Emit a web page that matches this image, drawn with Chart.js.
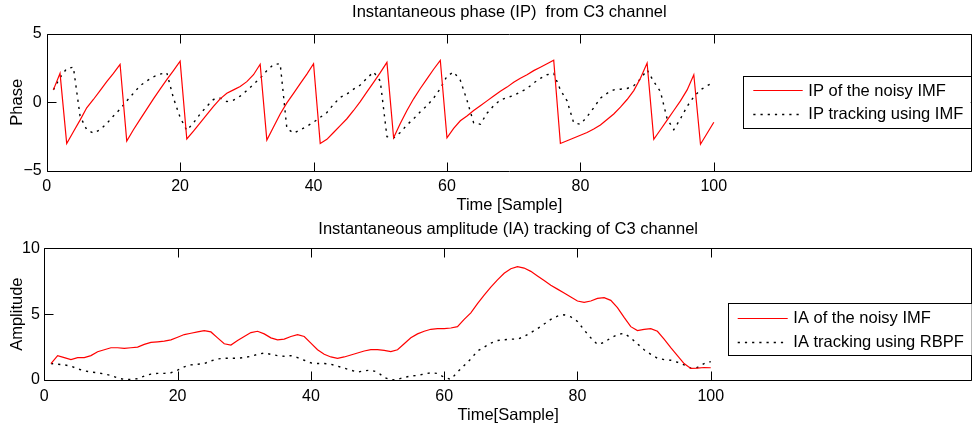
<!DOCTYPE html>
<html>
<head>
<meta charset="utf-8">
<script src="https://cdn.jsdelivr.net/npm/chart.js@4.4.1/dist/chart.umd.min.js"></script>
<style>
  html, body { margin: 0; padding: 0; background: #fff; }
  #wrap { position: relative; width: 972px; height: 429px; overflow: hidden; background: #fff; }
  canvas { position: absolute; left: 0; }
  #c1 { top: 0; }
  #c2 { top: 215px; }
</style>
</head>
<body>
<div id="wrap">
  <canvas id="c1" width="972" height="215"></canvas>
  <canvas id="c2" width="972" height="214"></canvas>
</div>
<script>
// ---------- data ----------
const samples = [1,2,3,4,5,6,7,8,9,10,11,12,13,14,15,16,17,18,19,20,
  21,22,23,24,25,26,27,28,29,30,31,32,33,34,35,36,37,38,39,40,
  41,42,43,44,45,46,47,48,49,50,51,52,53,54,55,56,57,58,59,60,
  61,62,63,64,65,66,67,68,69,70,71,72,73,74,75,76,77,78,79,80,
  81,82,83,84,85,86,87,88,89,90,91,92,93,94,95,96,97,98,99,100];

const ipNoisy = [0.9,2.1,-3.0,-2.15,-1.3,-0.4,0.2,0.85,1.5,2.1,
  2.76,-2.82,-2.0,-1.25,-0.5,0.25,0.95,1.65,2.3,2.98,
  -2.67,-2.1,-1.5,-0.9,-0.3,0.25,0.65,0.9,1.15,1.5,
  2.0,2.76,-2.75,-1.8,-0.85,-0.05,0.65,1.35,2.05,2.8,
  -3.0,-2.7,-2.2,-1.7,-1.2,-0.6,0.05,0.75,1.45,2.15,
  2.9,-2.58,-1.55,-0.6,0.25,1.0,1.7,2.4,3.05,-2.58,
  -1.9,-1.35,-1.0,-0.6,-0.25,0.1,0.45,0.8,1.1,1.45,
  1.75,2.0,2.3,2.55,2.8,3.05,-3.0,-2.8,-2.6,-2.4,
  -2.2,-1.95,-1.65,-1.25,-0.85,-0.35,0.2,0.85,1.75,2.85,
  -2.7,-2.0,-1.3,-0.6,0.1,0.9,2.0,-3.05,-2.25,-1.45];

const ipTrack = [0.9,1.8,2.45,2.55,-1.0,-2.0,-2.25,-2.0,-1.55,-1.0,
  -0.5,0.1,0.65,1.2,1.55,1.85,2.05,2.15,0.3,-1.1,
  -2.05,-1.5,-0.85,-0.3,0.2,0.3,0.05,0.15,0.45,0.85,
  1.3,1.75,2.3,2.75,2.8,-1.9,-2.25,-2.0,-1.75,-1.45,
  -1.1,-0.75,-0.15,0.35,0.6,0.95,1.25,1.75,2.2,1.55,
  -2.5,-2.6,-2.2,-1.65,-1.2,-0.7,-0.25,0.3,1.0,1.9,
  2.2,1.6,0.15,-1.5,-1.6,-0.8,-0.25,0.16,0.35,0.48,
  0.75,1.0,1.4,1.74,2.0,2.1,0.9,0.1,-1.5,-1.6,
  -1.05,-0.4,0.3,0.65,0.9,0.95,1.0,1.2,1.7,2.35,
  1.5,0.77,-1.2,-2.0,-1.2,-0.3,0.4,0.9,1.2,1.45];

const iaNoisy = [1.25,1.85,1.7,1.55,1.7,1.7,1.85,2.15,2.3,2.45,
  2.45,2.4,2.45,2.5,2.7,2.85,2.9,2.95,3.05,3.25,
  3.45,3.55,3.65,3.75,3.65,3.2,2.75,2.65,3.0,3.3,
  3.6,3.7,3.5,3.2,3.05,3.1,3.3,3.45,3.3,2.8,
  2.3,1.95,1.75,1.65,1.75,1.9,2.05,2.2,2.3,2.3,
  2.25,2.15,2.3,2.75,3.2,3.5,3.7,3.85,3.9,3.9,
  3.95,4.05,4.6,5.1,5.8,6.45,7.05,7.6,8.1,8.45,
  8.6,8.5,8.25,7.9,7.55,7.2,6.9,6.6,6.3,6.0,
  5.9,6.0,6.2,6.25,6.05,5.5,4.75,4.05,3.75,3.85,
  3.9,3.7,3.1,2.45,1.85,1.25,0.88,0.9,0.95,0.93];

const iaTrack = [1.25,1.2,1.15,1.05,0.85,0.7,0.6,0.55,0.45,0.35,
  0.15,0.05,0.05,0.1,0.3,0.45,0.5,0.5,0.55,0.75,
  1.0,1.15,1.2,1.25,1.45,1.6,1.65,1.65,1.65,1.7,
  1.8,1.95,2.05,1.95,1.85,1.8,1.85,1.7,1.5,1.3,
  1.25,1.25,1.2,1.05,0.9,0.75,0.6,0.7,0.75,0.6,
  0.2,0.0,0.05,0.2,0.3,0.35,0.45,0.55,0.5,0.2,
  0.05,0.6,1.1,1.6,2.2,2.5,2.8,3.0,3.05,3.1,
  3.1,3.3,3.6,3.9,4.25,4.6,4.85,4.95,4.8,4.45,
  3.8,3.2,2.7,2.85,3.2,3.45,3.55,3.2,2.75,2.3,
  1.95,1.65,1.55,1.5,1.35,1.15,0.9,0.95,1.25,1.4];

const xTickValues = [0, 20, 40, 60, 80, 100];
const phaseTicks = [-5, 0, 5];
const ampTicks = [0, 5, 10];

// ---------- helpers ----------
const FONT = '"Liberation Sans", Arial, Helvetica, sans-serif';
Chart.defaults.font.family = FONT;
Chart.defaults.color = '#000';

const toPts = (vals) => samples.map((s, i) => ({ x: s, y: vals[i] }));
const fmtTick = (v) => String(v).replace('-', '\u2212');

const frameTicks = {
  id: 'frameTicks',
  afterDatasetsDraw(chart) {
    const { ctx, chartArea: a, scales: { x, y } } = chart;
    const L = 9;
    const l = Math.round(a.left) + 0.5, r = Math.round(a.right) - 0.5;
    const t = Math.round(a.top) + 0.5, b = Math.round(a.bottom) + 0.5;
    ctx.save();
    ctx.strokeStyle = '#000';
    ctx.lineWidth = 1;
    ctx.beginPath();
    x.ticks.forEach(tk => {
      const px = Math.round(x.getPixelForValue(tk.value)) + 0.5;
      ctx.moveTo(px, t); ctx.lineTo(px, t + L);
      ctx.moveTo(px, b); ctx.lineTo(px, b - L);
    });
    y.ticks.forEach(tk => {
      const py = Math.round(y.getPixelForValue(tk.value)) + 0.5;
      ctx.moveTo(l, py); ctx.lineTo(l + L, py);
      ctx.moveTo(r, py); ctx.lineTo(r - L, py);
    });
    ctx.stroke();
    ctx.beginPath();
    ctx.moveTo(l, t); ctx.lineTo(r, t); ctx.lineTo(r, b); ctx.lineTo(l, b); ctx.closePath();
    ctx.stroke();
    ctx.restore();
  }
};

const boxLegend = {
  id: 'boxLegend',
  afterDraw(chart, args, o) {
    const { ctx } = chart;
    ctx.save();
    ctx.fillStyle = '#fff';
    ctx.fillRect(o.left, o.top, o.width, o.height);
    ctx.strokeStyle = '#000';
    ctx.lineWidth = 1;
    ctx.strokeRect(Math.round(o.left) + 0.5, Math.round(o.top) + 0.5, Math.round(o.width), Math.round(o.height));
    chart.data.datasets.forEach((ds, i) => {
      const yy = Math.round(o.top + o.rowY[i]) + 0.5;
      ctx.beginPath();
      ctx.strokeStyle = ds.borderColor;
      ctx.lineWidth = ds.borderWidth;
      ctx.setLineDash(ds.borderDash || []);
      ctx.moveTo(o.left + o.sampleX0, yy);
      ctx.lineTo(o.left + o.sampleX1, yy);
      ctx.stroke();
      ctx.setLineDash([]);
      ctx.fillStyle = '#000';
      ctx.font = o.fontSize + 'px ' + FONT;
      ctx.textBaseline = 'middle';
      ctx.textAlign = 'left';
      ctx.fillText(ds.label, o.left + o.textX, o.top + o.textY[i]);
    });
    ctx.restore();
  }
};

function makeChart(id, cfg) {
  return new Chart(document.getElementById(id), {
    type: 'line',
    data: {
      datasets: [
        { label: cfg.labels[0], data: toPts(cfg.series[0]), borderColor: '#ff0000', borderWidth: 1.2,
          pointRadius: 0, tension: 0, fill: false },
        { label: cfg.labels[1], data: toPts(cfg.series[1]), borderColor: '#000000', borderWidth: 1.4,
          borderDash: [2.2, 5], pointRadius: 0, tension: 0, fill: false }
      ]
    },
    options: {
      responsive: false,
      animation: false,
      devicePixelRatio: 1,
      events: [],
      layout: { padding: { left: 0, right: 0, top: 0, bottom: 0 } },
      plugins: {
        legend: { display: false },
        tooltip: { enabled: false },
        title: {
          display: true, text: cfg.title, fullSize: false, color: '#000',
          font: { size: 16.5, weight: 'normal', lineHeight: 1.2 },
          padding: { top: cfg.titlePadTop, bottom: cfg.titlePadBottom }
        },
        boxLegend: cfg.legend
      },
      scales: {
        x: {
          type: 'linear', min: 0, max: cfg.xMax,
          grid: { display: false, drawTicks: false, tickLength: 0 },
          border: { display: false },
          ticks: { autoSkip: false, maxRotation: 0, padding: cfg.xTickPad, font: { size: 16, lineHeight: 1.2 }, color: '#000',
            callback: fmtTick },
          afterBuildTicks: (s) => { s.ticks = xTickValues.map(v => ({ value: v })); },
          afterFit: (s) => { s.height = cfg.xAxisHeight; },
          title: { display: true, text: cfg.xTitle, color: '#000', font: { size: 16.5, lineHeight: 1.2 },
            padding: { top: 0, bottom: cfg.xTitlePadBottom } }
        },
        y: {
          type: 'linear', min: cfg.yMin, max: cfg.yMax,
          grid: { display: false, drawTicks: false, tickLength: 0 },
          border: { display: false },
          ticks: { padding: cfg.yTickPad, font: { size: 16, lineHeight: 1.2 }, color: '#000', callback: fmtTick },
          afterBuildTicks: (s) => { s.ticks = cfg.yTicks.map(v => ({ value: v })); },
          afterFit: (s) => { s.width = cfg.yAxisWidth; },
          title: { display: true, text: cfg.yTitle, color: '#000', font: { size: 16.5, lineHeight: 1.2 },
            padding: { top: 7.6, bottom: 0 } }
        }
      }
    },
    plugins: [frameTicks, boxLegend]
  });
}

makeChart('c1', {
  labels: ['IP of the noisy IMF', 'IP tracking using IMF'],
  series: [ipNoisy, ipTrack],
  title: 'Instantaneous phase (IP)  from C3 channel',
  titlePadTop: 2.1, titlePadBottom: 11.6,
  xTitle: 'Time [Sample]', yTitle: 'Phase',
  xMax: 138.7, yMin: -5, yMax: 5, yTicks: phaseTicks,
  xAxisHeight: 44, xTickPad: 6.1, xTitlePadBottom: 0.1,
  yAxisWidth: 46.7, yTickPad: 5,
  legend: { left: 742.7, top: 76, width: 228, height: 52, sampleX0: 10.6, sampleX1: 60, textX: 65.6,
    rowY: [14.2, 38], textY: [15.2, 38.5], fontSize: 16.5 }
});

makeChart('c2', {
  labels: ['IA of the noisy IMF', 'IA tracking using RBPF'],
  series: [iaNoisy, iaTrack],
  title: 'Instantaneous amplitude (IA) tracking of C3 channel',
  titlePadTop: 4.1, titlePadBottom: 9.4,
  xTitle: 'Time[Sample]', yTitle: 'Amplitude',
  xMax: 139.2, yMin: 0, yMax: 10, yTicks: ampTicks,
  xAxisHeight: 49, xTickPad: 6.7, xTitlePadBottom: 4.1,
  yAxisWidth: 44.3, yTickPad: 4.5,
  legend: { left: 727.7, top: 88.3, width: 244, height: 52.4, sampleX0: 10, sampleX1: 60, textX: 65.6,
    rowY: [15, 38.4], textY: [15.5, 38.9], fontSize: 16.5 }
});
</script>
</body>
</html>
